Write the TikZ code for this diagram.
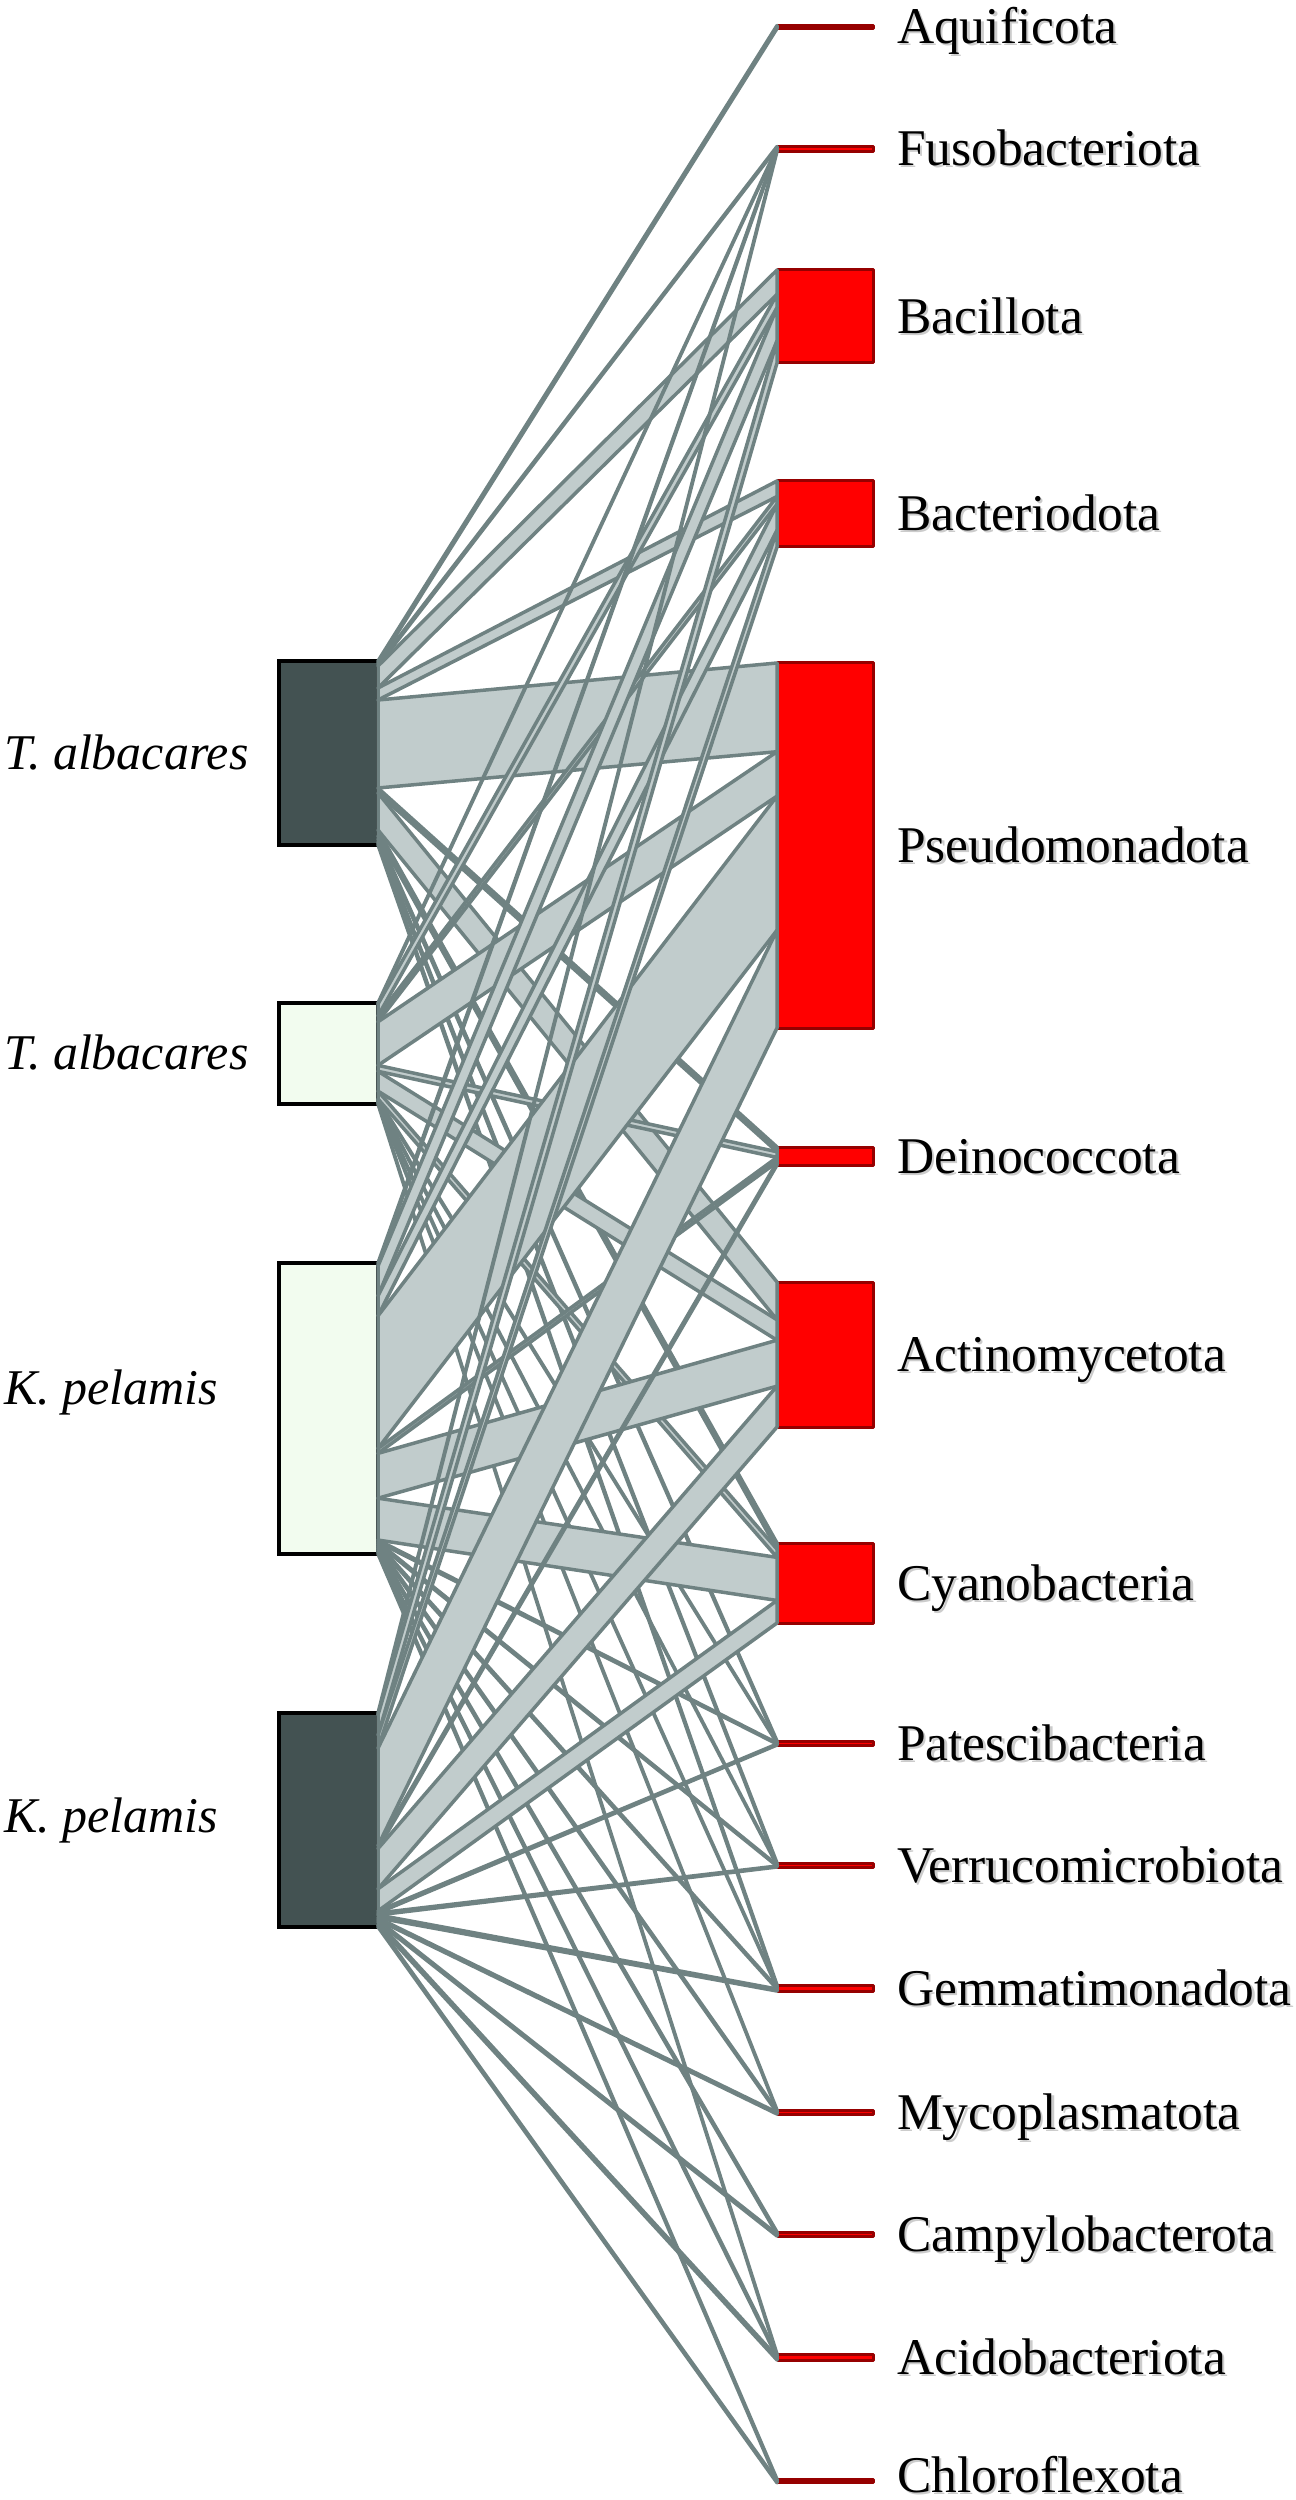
\documentclass[tikz,border=0pt]{standalone}
\usepackage{fontspec}
\setmainfont{Liberation Serif}
\usetikzlibrary{calc}
\definecolor{linkfill}{RGB}{193,204,204}
\definecolor{linkline}{RGB}{111,130,130}
\definecolor{hostdark}{RGB}{67,82,82}
\definecolor{hostlight}{RGB}{242,252,239}
\definecolor{phylfill}{RGB}{255,0,0}
\definecolor{phylline}{RGB}{150,0,0}
\begin{document}
\begin{tikzpicture}[x=0.2pt,y=-0.2pt,
  hostbox/.style={draw=black, line width=0.7pt, rectangle, inner sep=0pt, outer sep=0pt, minimum width=19.8pt, anchor=north west},
  phylbox/.style={draw=phylline, fill=phylfill, line width=0.6pt, rectangle, inner sep=0pt, outer sep=0pt, minimum width=19.2pt, anchor=north west, line join=round},
  linkband/.style={draw=linkline, fill=linkfill, line width=0.7pt, line join=round},
  plabel/.style={anchor=base west, inner sep=0pt, font=\fontsize{10.3}{12}\selectfont},
  pshadow/.style={plabel, text=black!20},
  hlabel/.style={anchor=west, inner sep=0pt, font=\fontsize{10}{12}\selectfont\itshape}]
\useasboundingbox (0,0) rectangle (1295,2500);
\clip (0,0) rectangle (1295,2500);
% host boxes
\node[hostbox, fill=hostdark, minimum height=36.8pt] (h0) at (279,661) {};
\node[hostbox, fill=hostlight, minimum height=20.2pt] (h1) at (279,1003) {};
\node[hostbox, fill=hostlight, minimum height=58.2pt] (h2) at (279,1263) {};
\node[hostbox, fill=hostdark, minimum height=42.8pt] (h3) at (279,1713) {};
\node[hlabel] (hl0) at (3,753) {T. albacares};
\node[hlabel] (hl1) at (3,1053) {T. albacares};
\node[hlabel] (hl2) at (3,1392) {K. pelamis};
\node[hlabel] (hl3) at (3,1820) {K. pelamis};
% phylum boxes and labels
\foreach \n/\t/\hgt/\off/\lab in {0/25.5/3/17/Aquificota, 1/146.5/5/17/Fusobacteriota, 2/270/93/17/Bacillota, 3/481/66/17/Bacteriodota, 4/663/365/17/Pseudomonadota, 5/1147/18/17/Deinococcota, 6/1282/145/17/Actinomycetota, 7/1543/80/17/Cyanobacteria, 8/1741/4/17/Patescibacteria, 9/1863/4/17/Verrucomicrobiota, 10/1985/6/17/Gemmatimonadota, 11/2110/4/17/Mycoplasmatota, 12/2232/4/17/Campylobacterota, 13/2354/6/17/Acidobacteriota, 14/2479.25/3.5/11/Chloroflexota}{
  \node[phylbox, minimum height=\hgt*0.2pt] (p\n) at (777,\t) {};
  \pgfmathsetmacro\by{\t+\hgt/2+\off}
  \node[pshadow] (ps\n) at (898.5,\by+2) {\lab};
  \node[plabel] (pl\n) at (896,\by) {\lab};
}
% link data (rows: hosts, columns: phyla)
\def\W{{3,2,22,12,88,5,37,6,3,3,3,0,0,0,0,0,1,12,6,44,6,20,8,1,1,1,1,0,1,0,0,3,30,20,133,5,45,42,2,2,2,2,2,2,2,0,2,20,13,97,3,40,22,2,2,3,2,2,3,2}}
\def\hh{{184,101,291,214}}
\def\rsum{{184,102,292,213}}
\def\ph{{3,5,93,66,365,18,145,80,4,4,6,4,4,6,3.5}}
\def\csum{{3,8,84,51,362,19,142,78,8,8,9,5,4,6,4}}
\foreach \j in {0,...,14}{\expandafter\xdef\csname rc\j\endcsname{0}}
\foreach \i in {0,...,3}{
  \xdef\lcum{0}
  \foreach \j in {0,...,14}{
    \pgfmathsetmacro\w{\W[\i*15+\j]}
    \ifdim\w pt>0pt
      \pgfmathsetmacro\ls{\hh[\i]/\rsum[\i]}
      \pgfmathsetmacro\rs{\ph[\j]/\csum[\j]}
      \pgfmathsetmacro\ya{\lcum*\ls}
      \pgfmathsetmacro\yb{\ya+\w*\ls}
      \edef\rcv{\csname rc\j\endcsname}
      \pgfmathsetmacro\yc{\rcv*\rs}
      \pgfmathsetmacro\yd{\yc+\w*\rs}
      \draw[linkband] ($(h\i.north east)+(0,\ya)$) -- ($(p\j.north west)+(0,\yc)$) -- ($(p\j.north west)+(0,\yd)$) -- ($(h\i.north east)+(0,\yb)$) -- cycle;
      \pgfmathsetmacro\tmp{\lcum+\w}\xdef\lcum{\tmp}
      \pgfmathsetmacro\tmp{\rcv+\w}\expandafter\xdef\csname rc\j\endcsname{\tmp}
    \fi
  }
}
\end{tikzpicture}
\end{document}
